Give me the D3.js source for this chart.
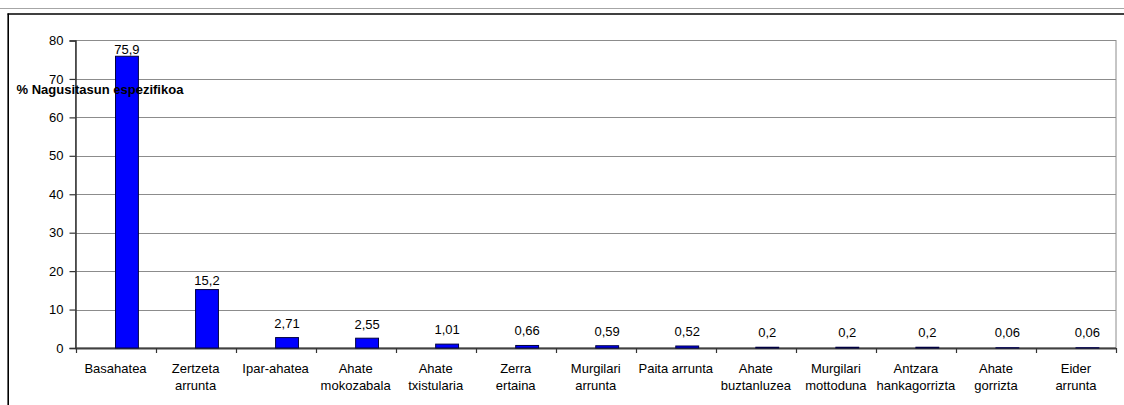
<!DOCTYPE html>
<html>
<head>
<meta charset="utf-8">
<script src="https://cdn.jsdelivr.net/npm/d3@7"></script>
<style>
  html, body { margin: 0; padding: 0; background: #fff; }
  svg { display: block; font-family: "Liberation Sans", Arial, sans-serif; }
</style>
</head>
<body>
<svg id="chart" width="1124" height="405"></svg>
<script>
// Species (line breaks mark where the axis label wraps)
const categories = [
  "Basahatea", "Zertzeta\narrunta", "Ipar-ahatea", "Ahate\nmokozabala",
  "Ahate\ntxistularia", "Zerra\nertaina", "Murgilari\narrunta", "Paita arrunta",
  "Ahate\nbuztanluzea", "Murgilari\nmottoduna", "Antzara\nhankagorrizta",
  "Ahate\ngorrizta", "Eider\narrunta"
];
// Specific dominance, %
const values = [75.9, 15.2, 2.71, 2.55, 1.01, 0.66, 0.59, 0.52, 0.2, 0.2, 0.2, 0.06, 0.06];
const valueLabels = ["75,9", "15,2", "2,71", "2,55", "1,01", "0,66", "0,59", "0,52", "0,2", "0,2", "0,2", "0,06", "0,06"];
const yTicks = [0, 10, 20, 30, 40, 50, 60, 70, 80];
const yTitle = "% Nagusitasun espezifikoa";

const svg = d3.select("#chart");
const W = 1124, H = 405;
const plot = { left: 75.5, right: 1116, top: 40.5, bottom: 348 };

// Outer frame
svg.append("line").attr("x1", 0).attr("x2", W).attr("y1", 8.5).attr("y2", 8.5)
  .attr("stroke", "#a6a6a6").attr("stroke-width", 1);
svg.append("line").attr("x1", 7.5).attr("x2", W).attr("y1", 14).attr("y2", 14)
  .attr("stroke", "#000").attr("stroke-width", 1.6);
svg.append("line").attr("x1", 8.2).attr("x2", 8.2).attr("y1", 13.5).attr("y2", H)
  .attr("stroke", "#000").attr("stroke-width", 1.6);

const x = d3.scaleBand().domain(d3.range(categories.length))
  .range([plot.left, plot.right]).paddingInner(0).paddingOuter(0);
const y = d3.scaleLinear().domain([0, 80]).range([plot.bottom, plot.top]);
// Value labels sit on their own gentler scale, never lower than just above the bar
const yLabel = d3.scaleLinear().domain([0, 80]).range([333, 53]);

// Plot area border
svg.append("rect")
  .attr("x", plot.left).attr("y", plot.top)
  .attr("width", plot.right - plot.left).attr("height", plot.bottom - plot.top)
  .attr("fill", "none").attr("stroke", "#8c8c8c").attr("stroke-width", 1);

// Gridlines
svg.append("g").selectAll("line")
  .data(yTicks.filter(t => t > 0 && t < 80))
  .join("line")
  .attr("x1", plot.left).attr("x2", plot.right)
  .attr("y1", d => Math.round(y(d)) + 0.5).attr("y2", d => Math.round(y(d)) + 0.5)
  .attr("stroke", "#8c8c8c").attr("stroke-width", 1);

// X axis line and ticks at category boundaries
const bw = x.bandwidth();
const bounds = d3.range(categories.length + 1).map(i => plot.left + i * bw);
svg.append("line")
  .attr("x1", plot.left).attr("x2", plot.right)
  .attr("y1", plot.bottom + 0.5).attr("y2", plot.bottom + 0.5)
  .attr("stroke", "#404040").attr("stroke-width", 2);
svg.append("g").selectAll("line")
  .data(bounds)
  .join("line")
  .attr("x1", d => Math.round(d) + 0.5).attr("x2", d => Math.round(d) + 0.5)
  .attr("y1", plot.bottom).attr("y2", plot.bottom + 5)
  .attr("stroke", "#333").attr("stroke-width", 1.2);

// Bars: clustered layout with a 150% gap, the series occupying the second slot
const gapWidth = 1.5;
const barW = bw / (2 + gapWidth);
const barX = i => x(i) + barW * gapWidth / 2 + barW;

svg.append("g").selectAll("rect")
  .data(values)
  .join("rect")
  .attr("x", (d, i) => barX(i))
  .attr("y", d => y(d))
  .attr("width", barW)
  .attr("height", d => plot.bottom - y(d))
  .attr("fill", "#0000ff")
  .attr("stroke", "#000040")
  .attr("stroke-width", 1);

// Value labels
svg.append("g").selectAll("text")
  .data(values)
  .join("text")
  .attr("x", (d, i) => barX(i) + barW / 2)
  .attr("y", d => Math.min(y(d) - 7, yLabel(d)) + 4.7)
  .attr("text-anchor", "middle")
  .attr("font-size", 13)
  .attr("fill", "#000")
  .text((d, i) => valueLabels[i]);

// Y axis
const yAxis = d3.axisLeft(y).tickValues(yTicks).tickSize(6).tickPadding(6).tickFormat(d3.format("d"));
const gy = svg.append("g").attr("transform", `translate(${plot.left},0)`).call(yAxis);
gy.select(".domain").attr("stroke", "#333").attr("stroke-width", 1.5);
gy.selectAll(".tick line").attr("stroke", "#333").attr("stroke-width", 1.2);
gy.selectAll(".tick text").attr("font-size", 13).attr("fill", "#000")
  .attr("font-family", "Liberation Sans, Arial, sans-serif");

// Category labels
const cat = svg.append("g").selectAll("text")
  .data(categories)
  .join("text")
  .attr("text-anchor", "middle")
  .attr("font-size", 13)
  .attr("fill", "#000")
  .attr("transform", (d, i) => `translate(${x(i) + bw / 2},372.5)`);
cat.selectAll("tspan")
  .data(d => d.split("\n"))
  .join("tspan")
  .attr("x", 0)
  .attr("dy", (d, j) => j === 0 ? 0 : 17)
  .text(d => d);

// Axis title
svg.append("text")
  .attr("x", 16.5).attr("y", 93.5)
  .attr("font-size", 13).attr("font-weight", "bold").attr("fill", "#000")
  .text(yTitle);
</script>
</body>
</html>
